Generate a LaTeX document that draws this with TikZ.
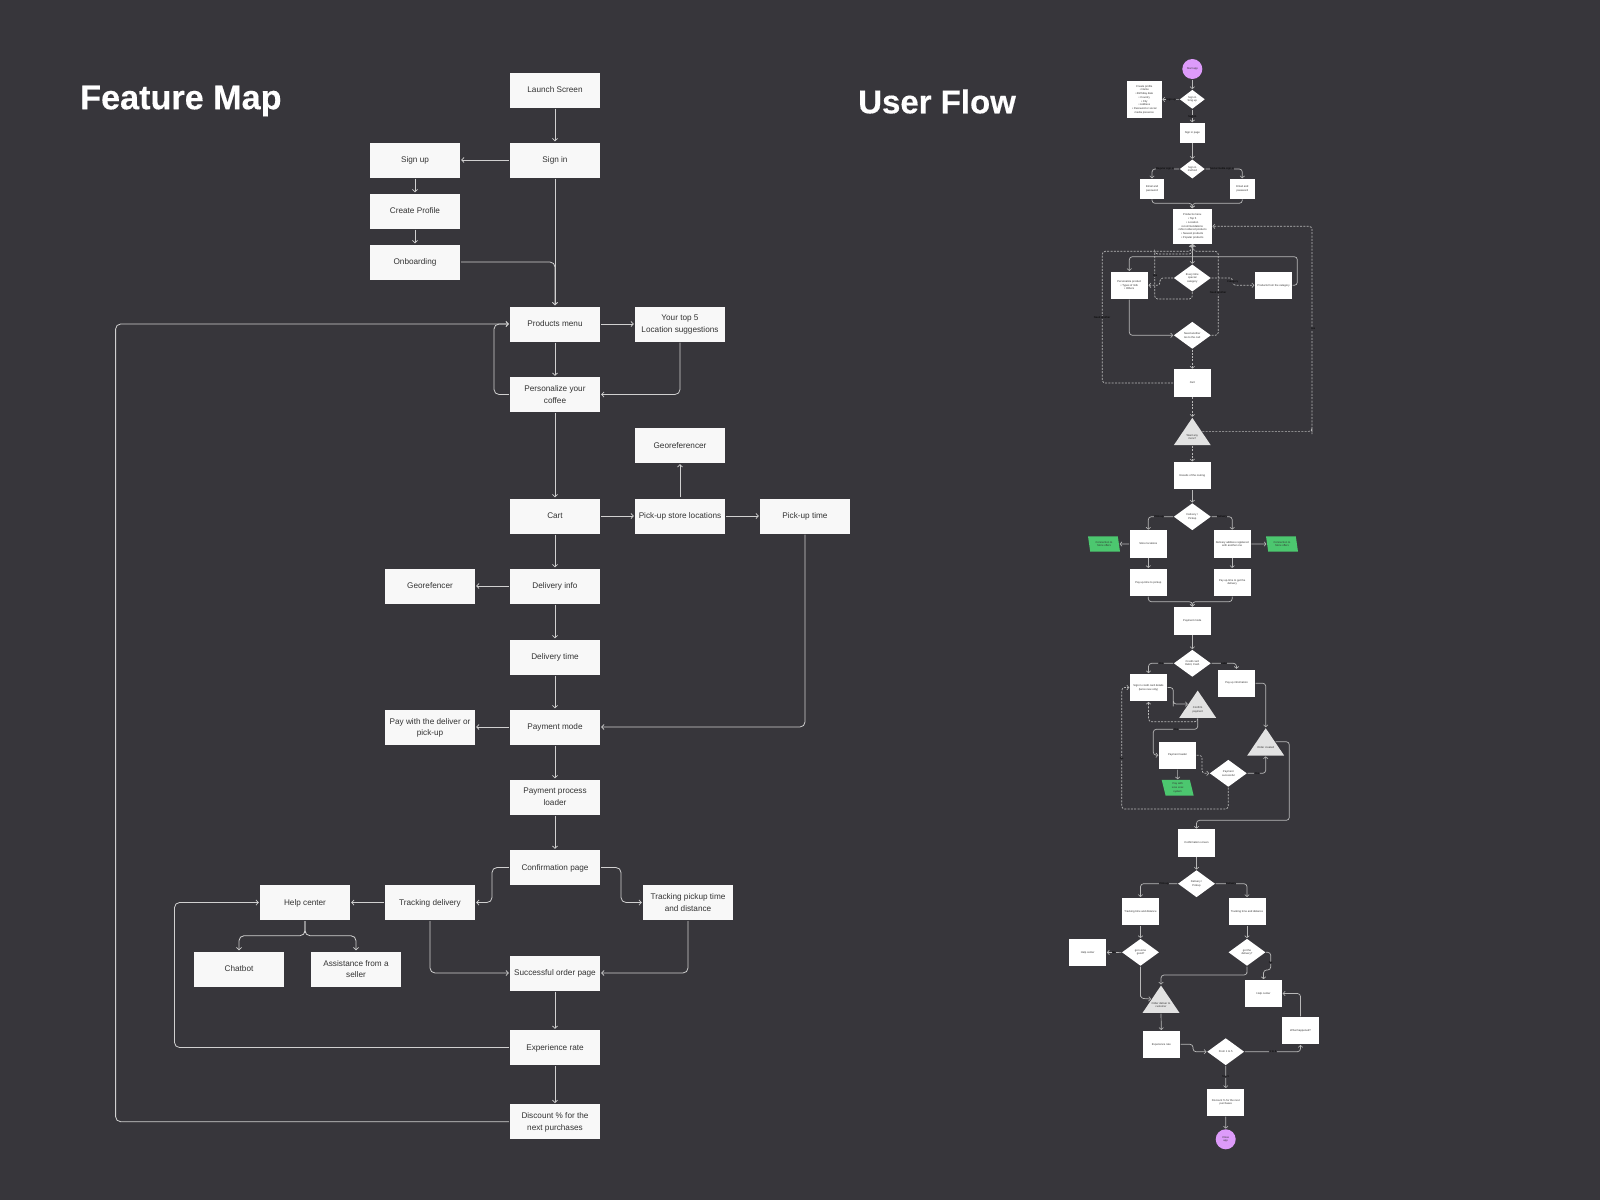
\documentclass[tikz,border=0pt]{standalone}
\usepackage{fontspec}
\setmainfont{Liberation Sans}[BoldFeatures={FakeBold=0.35}]
\usetikzlibrary{arrows.meta,shapes.geometric,calc}
\definecolor{bg}{HTML}{37363B}
\definecolor{boxc}{HTML}{F8F8F8}
\definecolor{ink}{HTML}{333333}
\definecolor{linec}{HTML}{D0D0D0}
\definecolor{flowl}{HTML}{B8B8B8}
\definecolor{tric}{HTML}{E2E2E2}
\definecolor{gr}{HTML}{4CC76F}
\definecolor{pur}{HTML}{DD9BFA}
\newcommand{\fmfont}{\fontsize{8.2}{11.8}\selectfont}
\newcommand{\uffont}{\fontsize{2.7}{3.7}\selectfont}
\tikzset{
 fmbox/.style={rectangle,fill=boxc,text=ink,minimum width=90,minimum height=35,inner sep=0,align=center,font=\fmfont,text depth=0},
 ufbox/.style={rectangle,fill=white,text=ink,minimum width=37,minimum height=27.3,inner sep=0,align=center,font=\uffont},
 dia/.style={diamond,fill=white,text=ink,aspect=1.37,minimum width=37,minimum height=27,inner sep=0,align=center,font=\uffont},
 smalldia/.style={dia,aspect=1.32,minimum width=25,minimum height=19},
 tri/.style={isosceles triangle,isosceles triangle stretches,shape border rotate=90,fill=tric,minimum width=37,minimum height=27.4,inner sep=0,anchor=apex},
 trit/.style={text=ink,inner sep=0,align=center,font=\uffont},
 para/.style={trapezium,trapezium left angle=111.4,trapezium right angle=68.6,trapezium stretches body,fill=gr,text=ink,minimum width=32,minimum height=15.4,inner sep=0,align=center,font=\uffont},
 circ/.style={circle,fill=pur,text=ink,minimum size=20,inner sep=0,align=center,font=\uffont},
 lab/.style={fill=bg,text=black,inner sep=.4,font=\fontsize{2.7}{3.7}\selectfont},
 title/.style={text=white,inner sep=0,font=\bfseries},
 fml/.style={draw=linec,line width=.8,rounded corners=5,shorten >=1,shorten <=1,-{Straight Barb[length=2.4,width=5.2,line width=.7]}},
 ufl/.style={draw=flowl,line width=.7,rounded corners=3,shorten >=.5,shorten <=.5,-{Straight Barb[length=2,width=4.5,line width=.6]}},
 ufd/.style={ufl,dash pattern=on 2 off 1.3},
}
\begin{document}
\begin{tikzpicture}[x=1pt,y=-1pt]
\fill[bg] (0,0) rectangle (1600,1200);
\useasboundingbox (0,0) rectangle (1600,1200);
\node[title,anchor=west,font=\fontsize{34.2}{40}\selectfont\bfseries] (tfm) at (80,101) {Feature Map};
\node[title,anchor=west,font=\fontsize{33}{40}\selectfont\bfseries] (tuf) at (858,101.5) {User Flow};
% ---------- Feature map
\node[fmbox] (launch) at (555,90) {Launch Screen};
\node[fmbox] (signin) at (555,160) {Sign in};
\node[fmbox] (signup) at (415,160) {Sign up};
\node[fmbox] (create) at (415,211) {Create Profile};
\node[fmbox] (onb) at (415,262) {Onboarding};
\node[fmbox] (menu) at (555,324) {Products menu};
\node[fmbox] (top5) at (680,324) {Your top 5\\Location suggestions};
\node[fmbox] (pers0) at (555,394.5) {Personalize your\\coffee};
\node[fmbox] (geor) at (680,445.5) {Georeferencer};
\node[fmbox] (cart0) at (555,516) {Cart};
\node[fmbox] (pick) at (680,516) {Pick-up store locations};
\node[fmbox] (ptime) at (805,516) {Pick-up time};
\node[fmbox] (dinfo) at (555,586) {Delivery info};
\node[fmbox] (gfen) at (430,586) {Georefencer};
\node[fmbox] (dtime) at (555,657) {Delivery time};
\node[fmbox] (pmode) at (555,727) {Payment mode};
\node[fmbox] (pdel) at (430,727) {Pay with the deliver or\\pick-up};
\node[fmbox] (ploader) at (555,797) {Payment process\\loader};
\node[fmbox] (cpage) at (555,867.5) {Confirmation page};
\node[fmbox] (tdel) at (430,902.5) {Tracking delivery};
\node[fmbox] (help) at (305,902.5) {Help center};
\node[fmbox] (chat) at (239,969) {Chatbot};
\node[fmbox] (assist) at (356,969) {Assistance from a\\seller};
\node[fmbox] (tpick) at (688,902.5) {Tracking pickup time\\and distance};
\node[fmbox] (succ) at (555,973) {Successful order page};
\node[fmbox] (rate) at (555,1047.5) {Experience rate};
\node[fmbox] (dpct) at (555,1121.7) {Discount \% for the\\next purchases};
\coordinate (c1) at (494,360);
\coordinate (c2) at (115.6,700);
\coordinate (c3) at (174.5,980);
\coordinate (c4) at (492,885);
\coordinate (c5) at (621,885);
\coordinate (c6) at (305,935.7);
\draw[fml] (launch) -- (signin);
\draw[fml] (signin) -- (signup);
\draw[fml] (signup) -- (create);
\draw[fml] (create) -- (onb);
\draw[fml] (signin) -- (menu);
\draw[fml] (onb.east) -| (menu.north);
\draw[fml] (menu) -- (top5);
\draw[fml] (menu) -- (pers0);
\draw[fml] (top5.south) |- (pers0.east);
\draw[fml] (pers0.west) -| (c1) |- (menu.west);
\draw[fml] (pers0) -- (cart0);
\draw[fml] (cart0) -- (pick);
\draw[fml] (pick) -- (geor);
\draw[fml] (pick) -- (ptime);
\draw[fml] (cart0) -- (dinfo);
\draw[fml] (dinfo) -- (gfen);
\draw[fml] (dinfo) -- (dtime);
\draw[fml] (dtime) -- (pmode);
\draw[fml] (ptime.south) |- (pmode.east);
\draw[fml] (pmode) -- (pdel);
\draw[fml] (pmode) -- (ploader);
\draw[fml] (ploader) -- (cpage);
\draw[fml] (cpage.west) -| (c4) |- (tdel.east);
\draw[fml] (cpage.east) -| (c5) |- (tpick.west);
\draw[fml] (tdel) -- (help);
\draw[fml] (tdel.south) |- (succ.west);
\draw[fml] (tpick.south) |- (succ.east);
\draw[fml] (help.south) |- (c6) -| (chat.north);
\draw[fml] (help.south) |- (c6) -| (assist.north);
\draw[fml] (succ) -- (rate);
\draw[fml] (rate) -- (dpct);
\draw[fml] (rate.west) -| (c3) |- (help.west);
\draw[fml] (dpct.west) -| (c2) |- (menu.west);
% ---------- User flow nodes
\node[circ] (start) at (1192.3,69) {Start app};
\node[smalldia] (d1) at (1192.3,99.3) {Sign in\\Sing up};
\node[ufbox,minimum width=34.7,minimum height=37.6] (prof) at (1144.3,99.5) {Create profile\\• Name\\• Birthday date\\• Country\\• City\\• Address\\• Password or social\\media presence};
\node[ufbox,minimum width=25,minimum height=19.7] (signp) at (1192.3,132.8) {Sign in page};
\node[smalldia] (d2) at (1192.3,169) {Sign in\\method};
\node[ufbox,minimum width=24.7,minimum height=19.7] (em1) at (1152,188.8) {Email and\\password};
\node[ufbox,minimum width=24.7,minimum height=19.7] (em2) at (1242.3,188.8) {Email and\\password};
\node[ufbox,minimum width=39,minimum height=34.7] (prod) at (1192.3,226.3) {Products menu\\• Top 5\\• Location\\recommendations\\• Most ordered products\\• Newest products\\• Popular products};
\node[dia] (d3) at (1192.3,278) {Every time\\special\\category};
\node[ufbox] (pers) at (1129.3,285.3) {Personalize product\\• Types of milk\\• Others};
\node[ufbox] (catg) at (1273.5,285.3) {Products from the category};
\node[dia] (d4) at (1192.3,335.3) {Need another\\Go to the cart};
\node[ufbox] (cart) at (1192.3,383) {Cart};
\node[tri] (t1) at (1192.3,417.3) {};
\node[trit] (t1t) at (1192.3,437) {Want any\\more?};
\node[ufbox] (res) at (1192.3,475.8) {Results of the routing};
\node[dia] (d5) at (1192.3,516.7) {Delivery /\\Pickup};
\node[ufbox] (sto) at (1148.3,544) {Store locations};
\node[ufbox] (del) at (1232.2,544) {Delivery address registered\\with another one};
\node[para] (g1) at (1104,544) {Connection to\\Store offers};
\node[para] (g2) at (1282,544) {Connection to\\Store offers};
\node[ufbox] (pay1) at (1148.3,582.3) {Pay up-time to pickup};
\node[ufbox] (pay2) at (1232.2,582.3) {Pay up-time to get the\\delivery};
\node[ufbox] (mode) at (1192.3,621) {Payment mode};
\node[dia] (d6) at (1192.3,663.3) {Credit card\\Debit, Cash};
\node[ufbox] (card) at (1148.5,687.5) {Sign in credit card details\\(twice new only)};
\node[ufbox] (info) at (1236.5,683.2) {Pay up information};
\node[tri] (t2) at (1197.7,690) {};
\node[trit] (t2t) at (1197.7,710) {Confirm\\payment};
\node[ufbox] (load) at (1177.5,755.2) {Payment loader};
\node[para,minimum height=15.7] (g3) at (1177.7,787.8) {Pay with\\xxxx xxxx\\system};
\node[dia] (d7) at (1228.3,773.3) {Payment\\successful};
\node[tri] (t3) at (1265.7,727.7) {};
\node[trit] (t3t) at (1265.7,747.7) {Order created};
\node[ufbox] (conf) at (1196.5,843) {Confirmation screen};
\node[dia] (d8) at (1196.5,883.7) {Delivery /\\Pickup};
\node[ufbox] (tr1) at (1140.5,911.3) {Tracking time and distance};
\node[ufbox] (tr2) at (1247,911.3) {Tracking time and distance};
\node[dia] (d9) at (1140.5,952.3) {got some\\good?};
\node[dia] (d10) at (1247,952.3) {got the\\delivery?};
\node[ufbox] (h1) at (1087.7,952.5) {Help center};
\node[ufbox] (h2) at (1263.5,993.5) {Help center};
\node[tri] (t4) at (1161,985) {};
\node[trit] (t4t) at (1161,1005) {Order deliver to\\customer};
\node[ufbox] (expr) at (1161.3,1044.3) {Experience rate};
\node[dia] (d11) at (1225.7,1051.7) {From 1 to 5};
\node[ufbox] (what) at (1300.5,1030.6) {What happened?};
\node[ufbox] (disc) at (1225.8,1102.3) {Discount \% for the next\\purchases};
\node[circ] (endc) at (1225.7,1139.3) {Close\\app};
% coordinates
\coordinate (m1) at (1192.3,203.3);
\coordinate (m2) at (1192.3,601.7);
\coordinate (u1) at (1102.3,251.3);
\coordinate (u2) at (1218.3,251.3);
\coordinate (u3) at (1154.7,299);
\coordinate (u4) at (1154.7,254);
\coordinate (u5) at (1297.3,256.7);
\coordinate (u6) at (1160,285.3);
\coordinate (u7) at (1232.7,278);
\coordinate (u8) at (1312,431);
\coordinate (p1) at (1173.3,703.3);
\coordinate (p2) at (1148.5,721.7);
\coordinate (p3) at (1153.3,729.3);
\coordinate (p4) at (1202,773.3);
\coordinate (p5) at (1121.7,809);
\coordinate (p6) at (1289.3,820.3);
\coordinate (q1) at (1140.5,998.3);
\coordinate (q2) at (1247,975);
\coordinate (q3) at (1270.7,970);
\coordinate (q4) at (1193,1051.7);
% connectors
\draw[ufl] (start) -- (d1);
\draw[ufl] (d1) -- (prof);
\draw[ufl] (d1) -- (signp);
\draw[ufl] (signp) -- (d2);
\draw[ufl] (d2.west) -| (em1.north);
\draw[ufl] (d2.east) -| (em2.north);
\draw[ufl] (em1.south) |- (m1) -- (prod.north);
\draw[ufl] (em2.south) |- (m1) -- (prod.north);
\draw[ufl] (prod.south) -- (d3.north);
\draw[ufd] (cart.west) -| (u1) -| ([xshift=-1]prod.south);
\draw[ufd] (d4.east) -| (u2) -| ([xshift=1]prod.south);
\draw[ufd] (d3.south) |- (u3) |- (u4) -| (prod.south);
\draw[ufl] (catg.east) -| (u5) -| (pers.north);
\draw[ufd] (d3.west) -| (u6) -- (pers.east);
\draw[ufd] (d3.east) -- (u7) |- (catg.west);
\draw[ufl] (pers.south) |- (d4.west);
\draw[ufd] (d4) -- (cart);
\draw[ufd] (cart) -- (t1.apex);
\draw[ufd] (t1.right side) -| (u8) |- (prod.east);
\draw[ufd] (t1.lower side) -- (res.north);
\draw[ufl] (res) -- (d5);
\draw[ufl] (d5.west) -| (sto.north);
\draw[ufl] (d5.east) -| (del.north);
\draw[ufl] (sto) -- (g1);
\draw[ufl] (del) -- (g2);
\draw[ufl] (sto) -- (pay1);
\draw[ufl] (del) -- (pay2);
\draw[ufl] (pay1.south) |- (m2) -- (mode.north);
\draw[ufl] (pay2.south) |- (m2) -- (mode.north);
\draw[ufl] (mode) -- (d6);
\draw[ufl] (d6.west) -| (card.north);
\draw[ufl] (d6.east) -| (info.north);
\draw[ufl] (card.east) -| (p1) |- (t2.left side);
\draw[ufl] (info.east) -| (t3.apex);
\draw[ufd] (t2.lower side) |- (p2) -- (card.south);
\draw[ufl] (t2.lower side) |- (p3) |- (load.west);
\draw[ufd] (load.east) -| (p4) -- (d7.west);
\draw[ufl] (load) -- (g3);
\draw[ufl] (d7.east) -| (t3.lower side);
\draw[ufd] (d7.south) |- (p5) |- (card.west);
\draw[ufl] (t3.right side) -| (p6) -| (conf.north);
\draw[ufl] (conf) -- (d8);
\draw[ufl] (d8.west) -| (tr1.north);
\draw[ufl] (d8.east) -| (tr2.north);
\draw[ufl] (tr1) -- (d9);
\draw[ufl] (tr2) -- (d10);
\draw[ufl] (d9) -- (h1);
\draw[ufl] (d9.south) |- (q1) -- (t4.left side);
\draw[ufl] (d10.south) |- (q2) -| (t4.apex);
\draw[ufl] (d10.east) -| (q3) -| (h2.north);
\draw[ufl] (what.north) |- (h2.east);
\draw[ufl] (t4.lower side) -- (expr.north);
\draw[ufl] (expr.east) -| (q4) -- (d11.west);
\draw[ufl] (d11.east) -| (what.south);
\draw[ufl] (d11) -- (disc);
\draw[ufl] (disc) -- (endc);
% labels
\node[lab] (a1) at (1171,99.3) {Sign up};
\node[lab] (a2) at (1192.3,116.3) {Sign in};
\node[lab] (a3) at (1165,169) {Regular sign in};
\node[lab] (a4) at (1222,169) {Social media sign in};
\node[lab] (a5) at (1155,275.7) {Yes};
\node[lab] (a6) at (1232.7,281.7) {Category};
\node[lab] (a7) at (1218,293) {Need another};
\node[lab] (a8) at (1102,317.7) {Need another};
\node[lab] (a9) at (1313,329) {Yes};
\node[lab] (a10) at (1159,516.7) {Pick-up};
\node[lab] (a11) at (1222,516.7) {Delivery};
\node[lab] (a12) at (1161,663.3) {Yes};
\node[lab] (a13) at (1224,663.3) {Later};
\node[lab] (a14) at (1176,729.3) {Yes};
\node[lab] (a15) at (1121.7,759) {No};
\node[lab] (a16) at (1257,773.3) {Yes};
\node[lab] (a17) at (1164,883.7) {Pick-up};
\node[lab] (a18) at (1231,883.7) {Delivery};
\node[lab] (a19) at (1114,952.3) {No};
\node[lab] (a20) at (1270.7,963) {No};
\node[lab] (a21) at (1273,1051.7) {1 to 4};
\node[lab] (a22) at (1225.7,1077) {5 to 5};
\end{tikzpicture}
\end{document}
